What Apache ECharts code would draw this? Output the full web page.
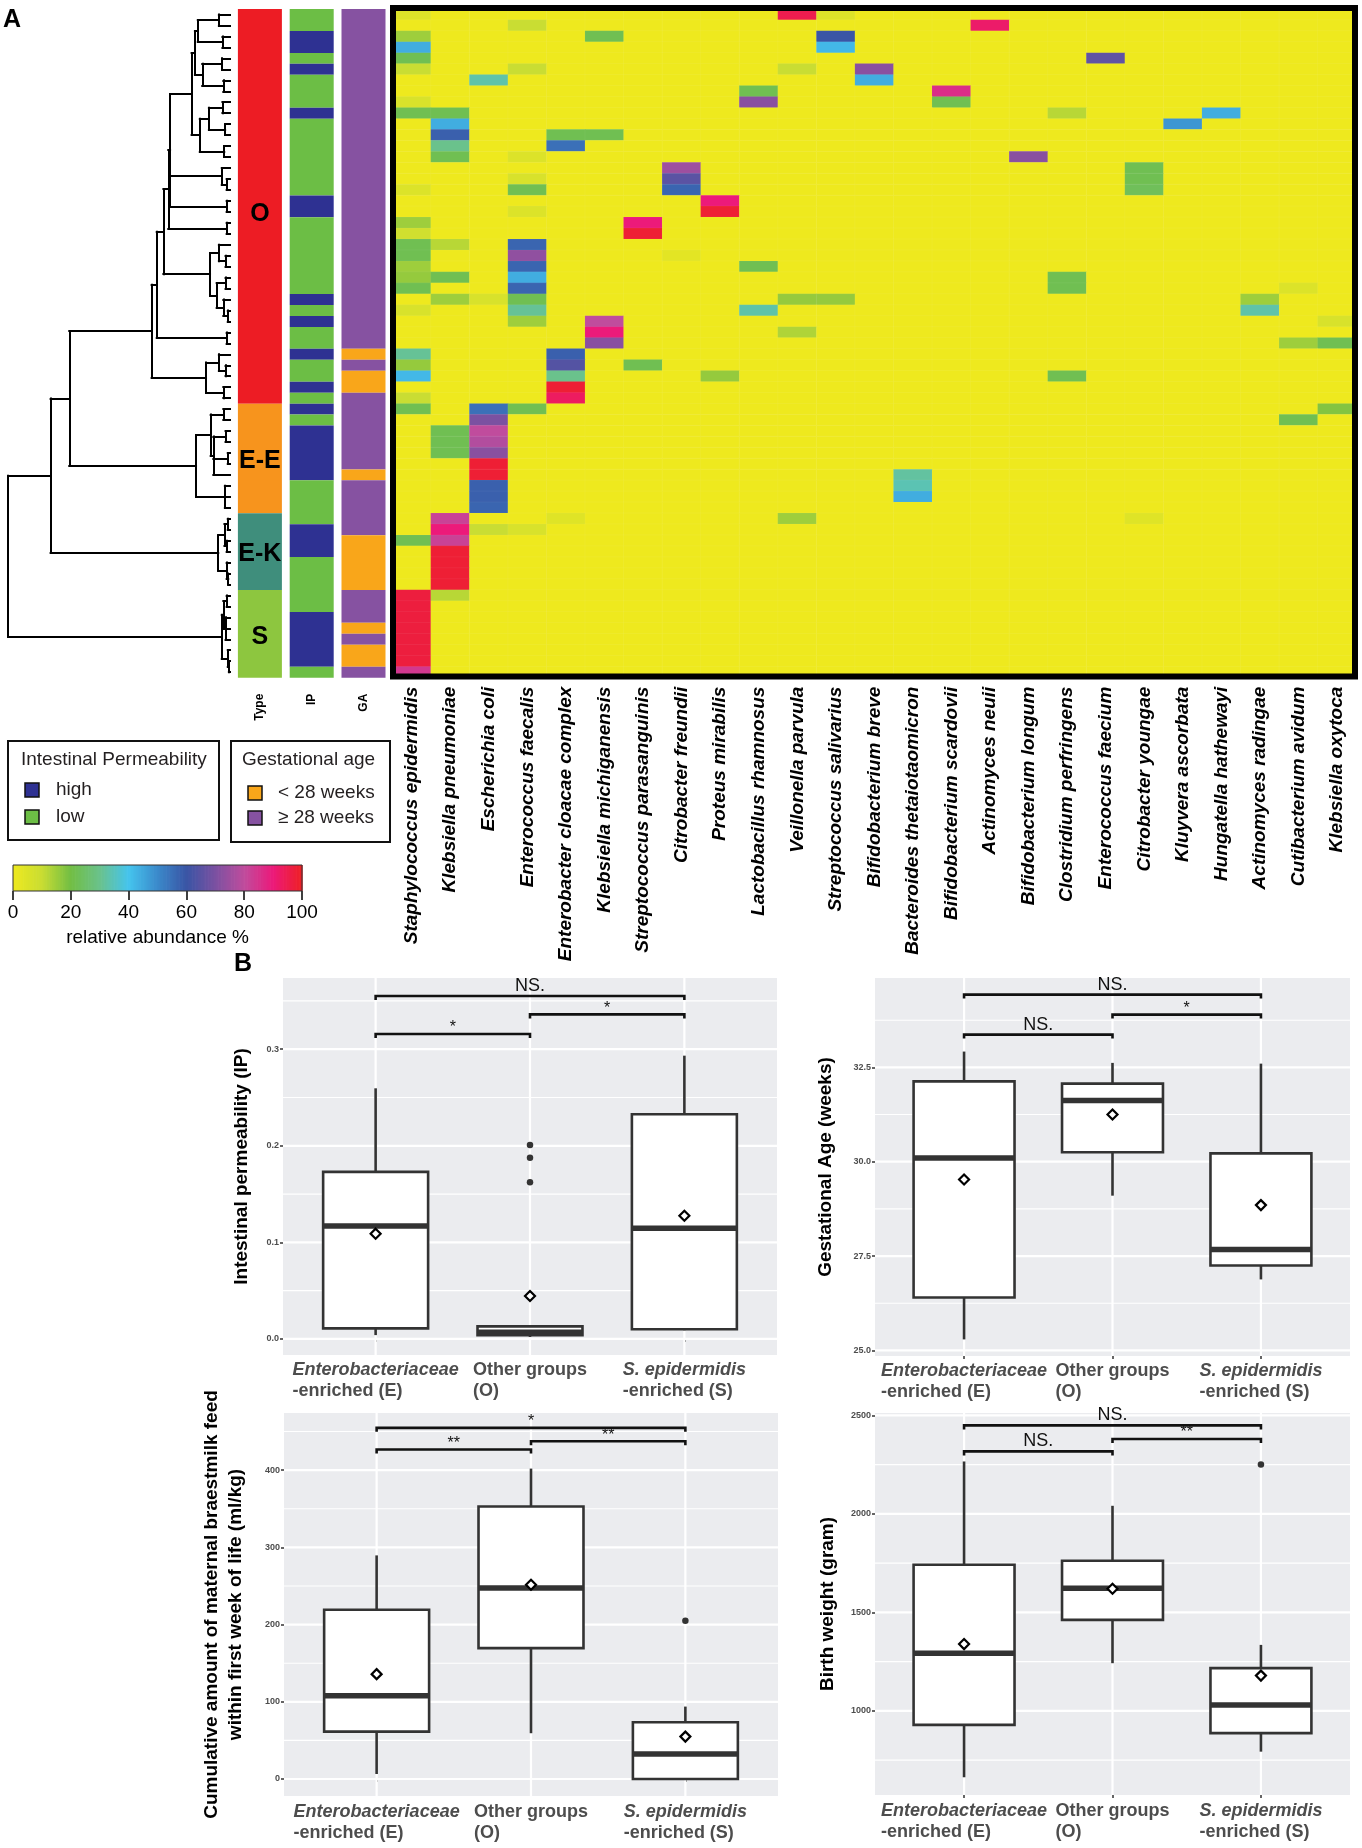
<!DOCTYPE html>
<html>
<head>
<meta charset="utf-8">
<title>Heatmap and box plots</title>
<script src="https://cdn.jsdelivr.net/npm/echarts@6.0.0/dist/echarts.min.js"></script>
<style>
html,body{margin:0;padding:0;background:#ffffff;}
#chart{width:1362px;height:1848px;}
</style>
</head>
<body>
<div id="chart"></div>
<script>
// ================= DATA =================
const species = ['Staphylococcus epidermidis','Klebsiella pneumoniae','Escherichia coli','Enterococcus faecalis',
  'Enterobacter cloacae complex','Klebsiella michiganensis','Streptococcus parasanguinis','Citrobacter freundii',
  'Proteus mirabilis','Lactobacillus rhamnosus','Veillonella parvula','Streptococcus salivarius','Bifidobacterium breve',
  'Bacteroides thetaiotaomicron','Bifidobacterium scardovii','Actinomyces neuii','Bifidobacterium longum',
  'Clostridium perfringens','Enterococcus faecium','Citrobacter youngae','Kluyvera ascorbata','Hungatella hathewayi',
  'Actinomyces radingae','Cutibacterium avidum','Klebsiella oxytoca'];
const sampleCount = 61;
// [sample row, species column, relative abundance %] ; all other cells are 0
const abundance = [
 [0,0,5],[0,10,95],[0,11,5],
 [1,3,10],[1,15,92],
 [2,0,15],[2,5,22],[2,11,60],
 [3,0,44],[3,11,42],
 [4,0,22],[4,18,66],
 [5,0,10],[5,3,10],[5,10,10],[5,12,72],
 [6,2,33],[6,12,44],
 [7,9,22],[7,14,86],
 [8,0,6],[8,9,72],[8,14,22],
 [9,0,22],[9,1,22],[9,17,12],[9,21,44],
 [10,1,44],[10,20,48],
 [11,1,58],[11,4,22],[11,5,22],
 [12,1,30],[12,4,55],
 [13,1,22],[13,3,5],[13,16,72],
 [14,7,75],[14,19,22],
 [15,3,6],[15,7,65],[15,19,22],
 [16,0,5],[16,3,22],[16,7,57],[16,19,23],
 [17,8,90],
 [18,3,5],[18,8,98],
 [19,0,15],[19,6,90],
 [20,0,8],[20,6,98],
 [21,0,22],[21,1,12],[21,3,57],
 [22,0,22],[22,3,73],[22,7,3],
 [23,0,15],[23,3,57],[23,9,22],
 [24,0,16],[24,1,22],[24,3,44],[24,17,22],
 [25,0,22],[25,3,57],[25,17,22],[25,23,5],
 [26,1,15],[26,2,6],[26,3,22],[26,10,16],[26,11,16],[26,22,15],
 [27,0,6],[27,3,31],[27,9,33],[27,22,33],
 [28,3,15],[28,5,80],[28,24,6],
 [29,5,90],[29,10,13],
 [30,5,72],[30,23,15],[30,24,22],
 [31,0,31],[31,4,58],
 [32,0,16],[32,4,64],[32,6,22],
 [33,0,42],[33,4,30],[33,8,16],[33,17,22],
 [34,4,98],
 [35,0,10],[35,4,93],
 [36,0,22],[36,2,55],[36,3,22],[36,24,18],
 [37,2,70],[37,23,22],
 [38,1,22],[38,2,80],
 [39,1,22],[39,2,78],
 [40,1,22],[40,2,72],
 [41,2,98],
 [42,2,98],[42,13,32],
 [43,2,58],[43,13,34],
 [44,2,58],[44,13,44],
 [45,2,57],
 [46,1,82],[46,4,4],[46,10,15],[46,19,4],
 [47,1,90],[47,2,10],[47,3,6],
 [48,0,22],[48,1,82],
 [49,1,98],[50,1,98],[51,1,98],[52,1,98],
 [53,0,97],[53,1,12],
 [54,0,97],[55,0,97],[56,0,97],[57,0,97],[58,0,97],[59,0,97],
 [60,0,84]
];
const typeGroups = [['O',0,35],['E-E',36,45],['E-K',46,52],['S',53,60]];
const ipLevel = ['low','low','high','high','low','high','low','low','low','high',
 'low','low','low','low','low','low','low','high','high','low',
 'low','low','low','low','low','low','high','low','high','low',
 'low','high','low','low','high','low','high','low','high','high',
 'high','high','high','low','low','low','low','high','high','high',
 'low','low','low','low','low','high','high','high','high','high',
 'low'];
const gaLevel = ['ge28','ge28','ge28','ge28','ge28','ge28','ge28','ge28','ge28','ge28',
 'ge28','ge28','ge28','ge28','ge28','ge28','ge28','ge28','ge28','ge28',
 'ge28','ge28','ge28','ge28','ge28','ge28','ge28','ge28','ge28','ge28',
 'ge28','lt28','ge28','lt28','lt28','ge28','ge28','ge28','ge28','ge28',
 'ge28','ge28','lt28','ge28','ge28','ge28','ge28','ge28','lt28','lt28',
 'lt28','lt28','lt28','ge28','ge28','ge28','lt28','ge28','lt28','lt28',
 'ge28'];
// dendrogram: [merge height, child, child, ...]; leaves are sample rows
const treeTop = [17.3, [15.8, [14.5, [5, 0, 1], [3.4, 2, 3]], [12.5, [3.6, 4, 5], [3, 6, 7]]],
                       [13.6, [9.5, [3.4, 8, 9], [2.2, 10, 11]], [2.6, 12, 13]]];
const treeMid = [27.8, [27, treeTop, [3.7, 14, [1.5, 15, 16]], [1.5, 17, 18]], [1.5, 19, 20]];
const treeC = [9, [5, 21, [2, 22, 23]], [6, [2, 24, 25], [3, 26, [1, 27, 28]]]];
const treeO = [35.3, [33, [30, treeMid, treeC], [1.5, 29, 30]], [10.8, [5, 31, [2, 32, 33]], [3, 34, 35]]];
const treeEE = [15.3, [8.7, [3, 36, 37], [7.5, [2, 38, 39], [1, 40, 41], 42]], [2.3, 43, 44, 45]];
const treeEK = [5.3, [2.5, [1, 46, 47], [1.5, 48, 49]], [1.5, 50, [0.8, 51, 52]]];
const treeS = [3.7, [3, [1.5, 53, 54], [2, 55, 56, 57]], [1, 58, [0.5, 59, 60]]];
const treeRoot = [100, [80.8, [72.4, treeO, treeEE], treeEK], treeS];

// ---- panel B ----
const groupTop = ['Enterobacteriaceae', 'Other groups', 'S. epidermidis'];
const groupBottom = ['-enriched (E)', '(O)', '-enriched (S)'];
const groupItalic = [true, false, true];
// [group, lower whisker, Q1, median, Q3, upper whisker]
const ipBoxes = [[1,0.004,0.011,0.117,0.173,0.2595],[2,0.002,0.004,0.007,0.013,0.013],[3,0.009,0.010,0.1146,0.2326,0.2933]];
const ipMeans = [[1,0.109],[2,0.0445],[3,0.1276]];
const ipOutliers = [[2,0.2008],[2,0.1877],[2,0.1622]];
const ipBrackets = [[1,3,0.355],[1,2,0.3157],[2,3,0.336]];
const ipBracketLabels = ['NS.','*','*'];
const ipTicks = [0, 0.1, 0.2, 0.3];
const ipMinor = [0.05, 0.15, 0.25, 0.35];

const gaBoxes = [[1,25.29,26.40,30.10,32.13,32.92],[2,29.10,30.25,31.62,32.07,32.62],[3,26.88,27.25,27.67,30.22,32.60]];
const gaMeans = [[1,29.53],[2,31.25],[3,28.85]];
const gaOutliers = [];
const gaBrackets = [[1,3,34.43],[1,2,33.37],[2,3,33.9]];
const gaBracketLabels = ['NS.','NS.','*'];
const gaTicks = [25, 27.5, 30, 32.5];
const gaMinor = [26.25, 28.75, 31.25, 33.75];

const milkBoxes = [[1,6.5,61.4,107.7,219.2,289.6],[2,59.3,169.5,247.3,353,402],[3,0,0,32.4,73.5,93.8]];
const milkMeans = [[1,135.8],[2,251.6],[3,54.9]];
const milkOutliers = [[3,205]];
const milkBrackets = [[1,3,454.8],[1,2,426.7],[2,3,437.5]];
const milkBracketLabels = ['*','**','**'];
const milkTicks = [0, 100, 200, 300, 400];
const milkMinor = [50, 150, 250, 350, 450];

const bwBoxes = [[1,663,929,1293,1741.7,2266],[2,1242,1462,1623,1762,2041],[3,793,887,1030,1217,1335]];
const bwMeans = [[1,1339],[2,1620],[3,1179]];
const bwOutliers = [[3,2250]];
const bwBrackets = [[1,3,2449],[1,2,2317],[2,3,2380]];
const bwBracketLabels = ['NS.','NS.','**'];
const bwTicks = [1000, 1500, 2000, 2500];
const bwMinor = [750, 1250, 1750, 2250];

// ================= STYLE / BUILD =================
const FONT = 'Liberation Sans, Arial, Helvetica, sans-serif';
const rampColors = ['#EEE91E','#C9DD33','#72BE44','#6AC28C','#45C4EE','#3B8ACB','#3A55A5','#7B51A1','#C04C9D','#EC1A7A','#EE2024'];
const annColors = {'O':'#ED1C24','E-E':'#F7941D','E-K':'#3F8E7C','S':'#8DC63F',
  'high':'#2E3192','low':'#6CBE45','lt28':'#F9A61A','ge28':'#8652A1'};

// dendrogram segments
const dendroSegments = [];
function layoutTree(node) {
  if (typeof node === 'number') return {y: node, h: 0};
  const h = node[0];
  const kids = node.slice(1).map(layoutTree);
  kids.forEach(k => dendroSegments.push([[k.h, k.y], [h, k.y]]));
  dendroSegments.push([[h, kids[0].y], [h, kids[kids.length - 1].y]]);
  return {y: (kids[0].y + kids[kids.length - 1].y) / 2, h: h};
}
layoutTree(treeRoot);

// heatmap full matrix
const cellMap = {};
abundance.forEach(([r, c, v]) => { cellMap[r + '_' + c] = v; });
const heatData = [];
for (let r = 0; r < sampleCount; r++) for (let c = 0; c < species.length; c++) heatData.push([c, r, cellMap[r + '_' + c] || 0]);
const rowIds = Array.from({length: sampleCount}, (_, i) => 'r' + i);

// annotation runs
const annSegments = [], annKeys = [];
typeGroups.forEach(([name, s, e]) => { annSegments.push([0, s, e]); annKeys.push(name); });
function pushRuns(arr, col) {
  let s = 0;
  for (let i = 1; i <= arr.length; i++) {
    if (i === arr.length || arr[i] !== arr[s]) { annSegments.push([col, s, i - 1]); annKeys.push(arr[s]); s = i; }
  }
}
pushRuns(ipLevel, 1); pushRuns(gaLevel, 2);

// colour bar ramp
const colorbarSteps = [];
for (let v = 0; v < 100; v += 0.5) colorbarSteps.push([v, v + 0.5, v + 0.25]);

const grids = [
  {left: 8, top: 9.05, width: 222, height: 668.6},
  {left: 234, top: 9.05, width: 155.4, height: 668.6},
  {left: 392.4, top: 9.05, width: 964, height: 668.6},
  {left: 13, top: 865, width: 289, height: 26}
];
const xAxes = [
  {gridIndex: 0, type: 'value', min: 0, max: 100, inverse: true, show: false},
  {gridIndex: 1, type: 'category', data: ['Type', 'IP', 'GA'], axisLine: {show: false}, axisTick: {show: false},
   axisLabel: {rotate: 90, margin: 16, fontSize: 12, fontWeight: 'bold', color: '#000', interval: 0, fontFamily: FONT}},
  {gridIndex: 2, type: 'category', data: species, axisLine: {show: false}, axisTick: {show: false},
   axisLabel: {rotate: 90, margin: 9, fontSize: 19, fontStyle: 'italic', fontWeight: 'bold', color: '#000', interval: 0, fontFamily: FONT}},
  {gridIndex: 3, type: 'value', min: 0, max: 100, interval: 20, axisLine: {show: false}, splitLine: {show: false},
   axisTick: {show: true, length: 9, lineStyle: {color: '#000', width: 1.5}},
   axisLabel: {fontSize: 19, color: '#000', margin: 12, fontFamily: FONT},
   name: 'relative abundance %', nameLocation: 'middle', nameGap: 37, nameTextStyle: {fontSize: 19, color: '#000', fontFamily: FONT}}
];
const yAxes = [
  {gridIndex: 0, type: 'value', min: -0.5, max: sampleCount - 0.5, inverse: true, show: false},
  {gridIndex: 1, type: 'value', min: -0.5, max: sampleCount - 0.5, inverse: true, show: false},
  {gridIndex: 2, type: 'category', data: rowIds, inverse: true, show: false},
  {gridIndex: 3, type: 'value', min: 0, max: 1, show: false}
];
const series = [
  {type: 'lines', coordinateSystem: 'cartesian2d', xAxisIndex: 0, yAxisIndex: 0, silent: true,
   data: dendroSegments.map(s => ({coords: s})), lineStyle: {color: '#000', width: 2, opacity: 1, cap: 'square'}},
  {type: 'custom', xAxisIndex: 1, yAxisIndex: 1, silent: true, data: annSegments,
   renderItem: (params, api) => {
     const col = api.value(0);
     const top = api.coord([col, api.value(1) - 0.5]);
     const bot = api.coord([col, api.value(2) + 0.5]);
     const key = annKeys[params.dataIndex];
     const children = [{type: 'rect', shape: {x: top[0] - 22, y: top[1], width: 44, height: bot[1] - top[1]}, style: {fill: annColors[key]}}];
     if (col === 0) children.push({type: 'text', x: top[0], y: (top[1] + bot[1]) / 2 + (key === 'O' ? 8 : 3),
       style: {text: key, fontSize: 25, fontWeight: 'bold', fill: '#000', align: 'center', verticalAlign: 'middle', fontFamily: FONT}});
     return {type: 'group', children: children};
   }},
  {type: 'heatmap', xAxisIndex: 2, yAxisIndex: 2, data: heatData, silent: true, progressive: 0,
   itemStyle: {borderColor: 'rgba(255,255,255,0.10)', borderWidth: 0.5}, emphasis: {disabled: true}},
  {type: 'custom', xAxisIndex: 3, yAxisIndex: 3, silent: true, data: colorbarSteps,
   renderItem: (params, api) => {
     const p0 = api.coord([api.value(0), 1]);
     const p1 = api.coord([api.value(1), 0]);
     return {type: 'rect', shape: {x: p0[0], y: p0[1], width: p1[0] - p0[0] + 0.7, height: p1[1] - p0[1]}, style: {fill: api.visual('color')}};
   }}
];

const plots = [
  {grid: {left: 283, top: 978, width: 494, height: 377}, y: [-0.0166, 0.3737], ticks: ipTicks, minor: ipMinor, dec: 1,
   title: 'Intestinal permeability (IP)', gap: 29, margin: 5, boxes: ipBoxes, means: ipMeans, outliers: ipOutliers, brackets: ipBrackets, labels: ipBracketLabels},
  {grid: {left: 875, top: 978, width: 475, height: 378}, y: [24.85, 34.87], ticks: gaTicks, minor: gaMinor, dec: 1,
   title: 'Gestational Age (weeks)', gap: 37, margin: 5, boxes: gaBoxes, means: gaMeans, outliers: gaOutliers, brackets: gaBrackets, labels: gaBracketLabels},
  {grid: {left: 284, top: 1413, width: 494, height: 383}, y: [-22, 474], ticks: milkTicks, minor: milkMinor, dec: 0,
   title: 'Cumulative amount of maternal braestmilk feed\nwithin first week of life (ml/kg)', gap: 36, margin: 6, boxes: milkBoxes, means: milkMeans, outliers: milkOutliers, brackets: milkBrackets, labels: milkBracketLabels},
  {grid: {left: 875, top: 1413, width: 475, height: 382}, y: [573, 2512], ticks: bwTicks, minor: bwMinor, dec: 0,
   title: 'Birth weight (gram)', gap: 35, margin: 6, boxes: bwBoxes, means: bwMeans, outliers: bwOutliers, brackets: bwBrackets, labels: bwBracketLabels}
];

const richLabel = {
  it: {fontStyle: 'italic', fontWeight: 'bold', fontSize: 18, color: '#4D4D4D', align: 'left', lineHeight: 21, fontFamily: FONT},
  n: {fontWeight: 'bold', fontSize: 18, color: '#4D4D4D', align: 'left', lineHeight: 21, fontFamily: FONT}
};

plots.forEach((p, i) => {
  const gi = 4 + i;
  grids.push(Object.assign({show: true, backgroundColor: '#EBECEF', borderWidth: 0}, p.grid));
  xAxes.push({gridIndex: gi, type: 'value', min: 0.4, max: 3.6, axisLine: {show: false}, splitLine: {show: false},
    axisTick: {show: true, customValues: [1, 2, 3], length: 3, lineStyle: {color: '#333', width: 1.5}},
    axisLabel: {customValues: [1, 2, 3], margin: p.margin, hideOverlap: false,
      formatter: v => { const k = Math.round(v) - 1; return '{' + (groupItalic[k] ? 'it' : 'n') + '|' + groupTop[k] + '}\n{n|' + groupBottom[k] + '}'; },
      rich: richLabel}});
  yAxes.push({gridIndex: gi, type: 'value', min: p.y[0], max: p.y[1], axisLine: {show: false}, splitLine: {show: false},
    axisTick: {show: true, customValues: p.ticks, length: 3, lineStyle: {color: '#333', width: 1.5}},
    axisLabel: {customValues: p.ticks, fontSize: 9, fontWeight: 'bold', color: '#4D4D4D', margin: 4, fontFamily: FONT,
      formatter: v => Number(v).toFixed(p.dec)},
    name: p.title, nameLocation: 'middle', nameGap: p.gap,
    nameTextStyle: {fontSize: 19, fontWeight: 'bold', color: '#000', lineHeight: 24, fontFamily: FONT}});
  const gridLines = [];
  p.ticks.forEach(v => gridLines.push([0, v, 1]));
  p.minor.forEach(v => gridLines.push([0, v, 0]));
  [1, 2, 3].forEach(v => gridLines.push([1, v, 1]));
  series.push({type: 'custom', xAxisIndex: gi, yAxisIndex: gi, silent: true, z: 1, data: gridLines,
    renderItem: (params, api) => {
      const cs = params.coordSys;
      const o = api.value(0), v = api.value(1), major = api.value(2);
      if (o === 0) {
        const y = api.coord([2, v])[1];
        return {type: 'line', shape: {x1: cs.x, y1: y, x2: cs.x + cs.width, y2: y}, style: {stroke: '#fff', lineWidth: major ? 2.2 : 1.1}};
      }
      const x = api.coord([v, p.y[0]])[0];
      return {type: 'line', shape: {x1: x, y1: cs.y, x2: x, y2: cs.y + cs.height}, style: {stroke: '#fff', lineWidth: 2.2}};
    }});
  series.push({type: 'custom', xAxisIndex: gi, yAxisIndex: gi, silent: true, z: 2, data: p.boxes,
    renderItem: (params, api) => {
      const x = api.value(0), hw = 0.34;
      const xc = api.coord([x, api.value(3)])[0];
      const xl = api.coord([x - hw, api.value(3)])[0];
      const xr = api.coord([x + hw, api.value(3)])[0];
      const yMin = api.coord([x, api.value(1)])[1];
      const yQ1 = api.coord([x, api.value(2)])[1];
      const yMed = api.coord([x, api.value(3)])[1];
      const yQ3 = api.coord([x, api.value(4)])[1];
      const yMax = api.coord([x, api.value(5)])[1];
      const st = {stroke: '#333', lineWidth: 2.6};
      return {type: 'group', children: [
        {type: 'line', shape: {x1: xc, y1: yMax, x2: xc, y2: yQ3}, style: st},
        {type: 'line', shape: {x1: xc, y1: yQ1, x2: xc, y2: yMin}, style: st},
        {type: 'rect', shape: {x: xl, y: yQ3, width: xr - xl, height: yQ1 - yQ3}, style: {fill: '#fff', stroke: '#333', lineWidth: 2.6}},
        {type: 'line', shape: {x1: xl, y1: yMed, x2: xr, y2: yMed}, style: {stroke: '#333', lineWidth: 5.5}}
      ]};
    }});
  series.push({type: 'scatter', xAxisIndex: gi, yAxisIndex: gi, silent: true, z: 3, data: p.outliers,
    symbol: 'circle', symbolSize: 6.5, itemStyle: {color: '#333', opacity: 1}});
  series.push({type: 'scatter', xAxisIndex: gi, yAxisIndex: gi, silent: true, z: 4, data: p.means,
    symbol: 'diamond', symbolSize: 10, itemStyle: {color: '#fff', borderColor: '#000', borderWidth: 2.2, opacity: 1}});
  series.push({type: 'custom', xAxisIndex: gi, yAxisIndex: gi, silent: true, z: 4, data: p.brackets,
    renderItem: (params, api) => {
      const a = api.coord([api.value(0), api.value(2)]);
      const b = api.coord([api.value(1), api.value(2)]);
      const lab = p.labels[params.dataIndex];
      const ns = lab === 'NS.';
      return {type: 'group', children: [
        {type: 'polyline', shape: {points: [[a[0], a[1] + 4], [a[0], a[1]], [b[0], b[1]], [b[0], b[1] + 4]]},
         style: {stroke: '#111', lineWidth: 2.6, fill: null}},
        {type: 'text', x: (a[0] + b[0]) / 2, y: a[1] - (ns ? 10 : 6),
         style: {text: lab, fontSize: ns ? 18 : 16, fill: '#111', align: 'center', verticalAlign: 'middle', fontFamily: FONT}}
      ]};
    }});
});

// legends & frame (graphic)
const graphic = [
  {type: 'text', x: 3, y: 8, style: {text: 'A', fontSize: 25, fontWeight: 'bold', fill: '#000', fontFamily: FONT}},
  {type: 'text', x: 234, y: 952, style: {text: 'B', fontSize: 25, fontWeight: 'bold', fill: '#000', fontFamily: FONT}},
  {type: 'rect', z: 100, shape: {x: 393, y: 8, width: 962, height: 668.5}, style: {fill: null, stroke: '#000', lineWidth: 6}},
  {type: 'rect', z: 100, shape: {x: 13, y: 865, width: 289, height: 26}, style: {fill: null, stroke: '#333', lineWidth: 1}},
  // IP legend
  {type: 'rect', shape: {x: 8, y: 741, width: 211, height: 99}, style: {fill: '#fff', stroke: '#111', lineWidth: 2}},
  {type: 'text', x: 21, y: 760, style: {text: 'Intestinal Permeability', fontSize: 19, fill: '#231F20', verticalAlign: 'middle', fontFamily: FONT}},
  {type: 'rect', shape: {x: 25, y: 783, width: 14, height: 14}, style: {fill: annColors.high, stroke: '#111', lineWidth: 1.5}},
  {type: 'rect', shape: {x: 25, y: 810, width: 14, height: 14}, style: {fill: annColors.low, stroke: '#111', lineWidth: 1.5}},
  {type: 'text', x: 56, y: 790, style: {text: 'high', fontSize: 19, fill: '#231F20', verticalAlign: 'middle', fontFamily: FONT}},
  {type: 'text', x: 56, y: 817, style: {text: 'low', fontSize: 19, fill: '#231F20', verticalAlign: 'middle', fontFamily: FONT}},
  // GA legend
  {type: 'rect', shape: {x: 231, y: 741, width: 159, height: 101}, style: {fill: '#fff', stroke: '#111', lineWidth: 2}},
  {type: 'text', x: 242, y: 760, style: {text: 'Gestational age', fontSize: 19, fill: '#231F20', verticalAlign: 'middle', fontFamily: FONT}},
  {type: 'rect', shape: {x: 248, y: 786, width: 14, height: 14}, style: {fill: annColors.lt28, stroke: '#111', lineWidth: 1.5}},
  {type: 'rect', shape: {x: 248, y: 811, width: 14, height: 14}, style: {fill: annColors.ge28, stroke: '#111', lineWidth: 1.5}},
  {type: 'text', x: 278, y: 793, style: {text: '< 28 weeks', fontSize: 19, fill: '#231F20', verticalAlign: 'middle', fontFamily: FONT}},
  {type: 'text', x: 278, y: 818, style: {text: '\u2265 28 weeks', fontSize: 19, fill: '#231F20', verticalAlign: 'middle', fontFamily: FONT}}
];

const chart = echarts.init(document.getElementById('chart'), null, {renderer: 'canvas'});
chart.setOption({
  animation: false,
  backgroundColor: '#ffffff',
  textStyle: {fontFamily: FONT},
  grid: grids.map(g => Object.assign({outerBoundsMode: 'none', containLabel: false}, g)),
  xAxis: xAxes,
  yAxis: yAxes,
  visualMap: {type: 'continuous', show: false, min: 0, max: 100, dimension: 2, seriesIndex: [2, 3], inRange: {color: rampColors}},
  series: series,
  graphic: graphic
});
</script>
</body>
</html>
